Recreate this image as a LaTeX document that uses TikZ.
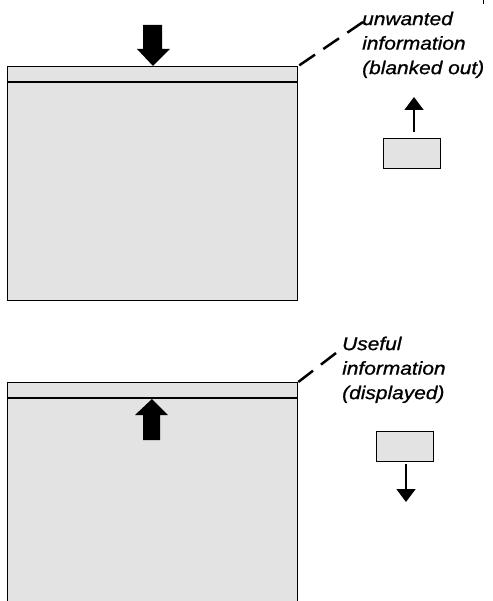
\documentclass[tikz,border=0pt]{standalone}
\usepackage{fontspec}
\setmainfont{Liberation Sans}
\newfontfamily\lblfont[FakeStretch=1.13,FakeBold=0.9]{Liberation Sans}
\usetikzlibrary{arrows.meta,calc}
\definecolor{stipple}{gray}{0.89}
\tikzset{
  panel/.style={draw=black, line width=1.3pt, fill=stipple, inner sep=0pt, anchor=north west},
  smallbox/.style={draw=black, line width=1.2pt, fill=stipple, inner sep=0pt,
    minimum width=57pt, minimum height=30pt, anchor=north west},
  lbl/.style={font=\lblfont\itshape\fontsize{18.5}{24.5}\selectfont, align=left,
    inner sep=0pt, anchor=north west},
  smallarr/.style={line width=1.5pt, -{Triangle[width=19pt,length=13pt]}},
  leader/.style={line width=2.5pt, dash pattern=on 19pt off 10pt},
  bigarrow/.style={fill=black}
}
\begin{document}
\begin{tikzpicture}[x=1pt,y=-1pt]
\useasboundingbox (0,0) rectangle (492,601);
\clip (0,0) rectangle (492,601);
\fill[white] (0,0) rectangle (492,601);

% upper screen
\node[panel, minimum width=290pt, minimum height=234pt] (scr1) at (7,66) {};
\draw[line width=1.3pt] ($(scr1.north west)+(0,16)$) -- ($(scr1.north east)+(0,16)$);
\fill[bigarrow] (143,25) -- (162,25) -- (162,49) -- (170,49) -- (153,66)
  -- (137,49) -- (143,49) -- cycle;

% lower screen (open at the bottom)
\node[panel, minimum width=290pt, minimum height=240pt] (scr2) at (7,382) {};
\draw[line width=1.3pt] ($(scr2.north west)+(0,16)$) -- ($(scr2.north east)+(0,16)$);
\fill[bigarrow] (143,440) -- (160,440) -- (160,415) -- (168,415) -- (152,399)
  -- (135,415) -- (143,415) -- cycle;

% labels
\node[lbl] (lbl1) at (362,11.5) {unwanted\\information\\(blanked out)};
\node[lbl] (lbl2) at (342,336.5) {Useful\\information\\(displayed)};

\coordinate (d1) at (363,22);
\coordinate (d2) at (336,353);
\draw[leader] (d1) -- (scr1.north east);
\draw[leader] (d2) -- (scr2.north east);

% small boxes and arrows
\node[smallbox] (sb1) at (383,138) {};
\coordinate (tipA) at (414,97);
\draw[smallarr, shorten <=6pt] (sb1.north -| tipA) -- (tipA);

\node[smallbox] (sb2) at (376,431) {};
\coordinate (tipB) at (406,502);
\draw[smallarr, shorten <=2pt] (sb2.south -| tipB) -- (tipB);

% small mark at top right
\draw[line width=1pt] (483.5,0) -- (483.5,4);
\end{tikzpicture}
\end{document}
